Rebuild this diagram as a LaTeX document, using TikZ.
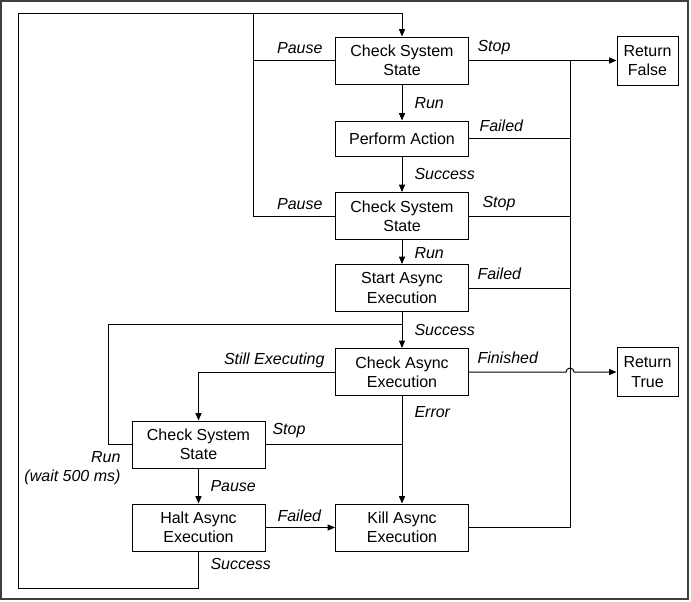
\documentclass[tikz,border=0pt]{standalone}
\usepackage{fontspec}
\setmainfont{Liberation Sans}
\usetikzlibrary{calc}
\usetikzlibrary{arrows.meta}

\begin{document}
\begin{tikzpicture} [x=.75pt, y=-.75pt, line width=.75pt, font=\fontsize{12}{14.5}\selectfont,
  box/.style={draw, minimum width=99.75pt, minimum height=35.25pt, align=center, inner sep=1pt},
  retbox/.style={box, minimum width=45.75pt, minimum height=36.75pt},
  lbl/.style={font=\fontsize{12}{14.5}\selectfont\itshape, inner sep=0pt, align=right},
  flow/.style={-{Triangle[length=5.5pt, width=4.5pt]}}]
\useasboundingbox (0,0) rectangle (691,601);
\draw[black!75, line width=1.5pt] (1,1) rectangle (688,599);

\node[box] (chk1) at (402,60.5) {Check System\\State};
\node[box, minimum height=26.25pt] (act) at (402,138.5) {Perform Action};
\node[box] (chk2) at (402,216) {Check System\\State};
\node[box] (start) at (402,288) {Start Async\\Execution};
\node[box] (async) at (402,372) {Check Async\\Execution};
\node[box] (chk3) at (198.5,444.5) {Check System\\State};
\node[box] (halt) at (198.5,527.5) {Halt Async\\Execution};
\node[box] (kill) at (402,527.5) {Kill Async\\Execution};
\node[retbox] (rfalse) at (647.5,60.5) {Return\\False};
\node[retbox] (rtrue) at (647.5,372) {Return\\True};

\coordinate (looptl) at (18,13);
\coordinate (loopbl) at (18,588);
\coordinate (pausetop) at (253,13);
\coordinate (runleft) at (108,324);
\coordinate (bustop) at (570,60.5);
\coordinate (busbot) at (570,527.5);

% main column
\draw[flow] (chk1.south) -- (act.north);
\draw[flow] (act.south) -- (chk2.north);
\draw[flow] (chk2.south) -- (start.north);
\draw[flow] (start.south) -- (async.north);
\draw[flow] (async.south) -- (kill.north);
\draw[flow] (async.west) -| (chk3.north);
\draw[flow] (chk3.south) -- (halt.north);
\draw[flow] (halt.east) -- (kill.west);

% loops back
\draw[flow] (halt.south) |- (loopbl) -- (looptl) -| (chk1.north);
\draw (chk1.west) -| (pausetop);
\draw (chk2.west) -| (pausetop);
\draw (chk3.west) -| (runleft) -- (runleft -| async.north);
\draw (chk3.east) -- (chk3.east -| async.south);

% right bus
\draw[flow] (chk1.east) -- (rfalse.west);
\draw (bustop) -- (busbot);
\foreach \n in {act, chk2, start, kill} \draw (\n.east) -- (\n.east -| bustop);
\draw[flow] (async.east) -- ($ (async.east -| bustop) +(-4,0) $) arc[start angle=180, end angle=0, radius=3pt] -- (rtrue.west);

% labels
\node[lbl, anchor=east] (lpause1) at (323,48) {Pause};
\node[lbl, anchor=west] (lstop1) at (477,48) {Stop};
\node[lbl, anchor=west] (lrun1) at (414,103) {Run};
\node[lbl, anchor=west] (lfail1) at (479,126) {Failed};
\node[lbl, anchor=west] (lsucc1) at (414,174) {Success};
\node[lbl, anchor=east] (lpause2) at (323,204) {Pause};
\node[lbl, anchor=west] (lstop2) at (482,204) {Stop};
\node[lbl, anchor=west] (lrun2) at (414,253) {Run};
\node[lbl, anchor=west] (lfail2) at (477,274) {Failed};
\node[lbl, anchor=west] (lsucc2) at (414,330) {Success};
\node[lbl, anchor=east] (lstill) at (325,360) {Still Executing};
\node[lbl, anchor=west] (lfin) at (477,358) {Finished};
\node[lbl, anchor=west] (lerr) at (414,412) {Error};
\node[lbl, anchor=west] (lstop3) at (272,431) {Stop};
\node[lbl, anchor=east] (lrun3) at (121,468) {Run\\(wait 500 ms)};
\node[lbl, anchor=west] (lpause3) at (210,486) {Pause};
\node[lbl, anchor=west] (lfail3) at (277,516) {Failed};
\node[lbl, anchor=west] (lsucc3) at (210,564) {Success};

\end{tikzpicture}
\end{document}
